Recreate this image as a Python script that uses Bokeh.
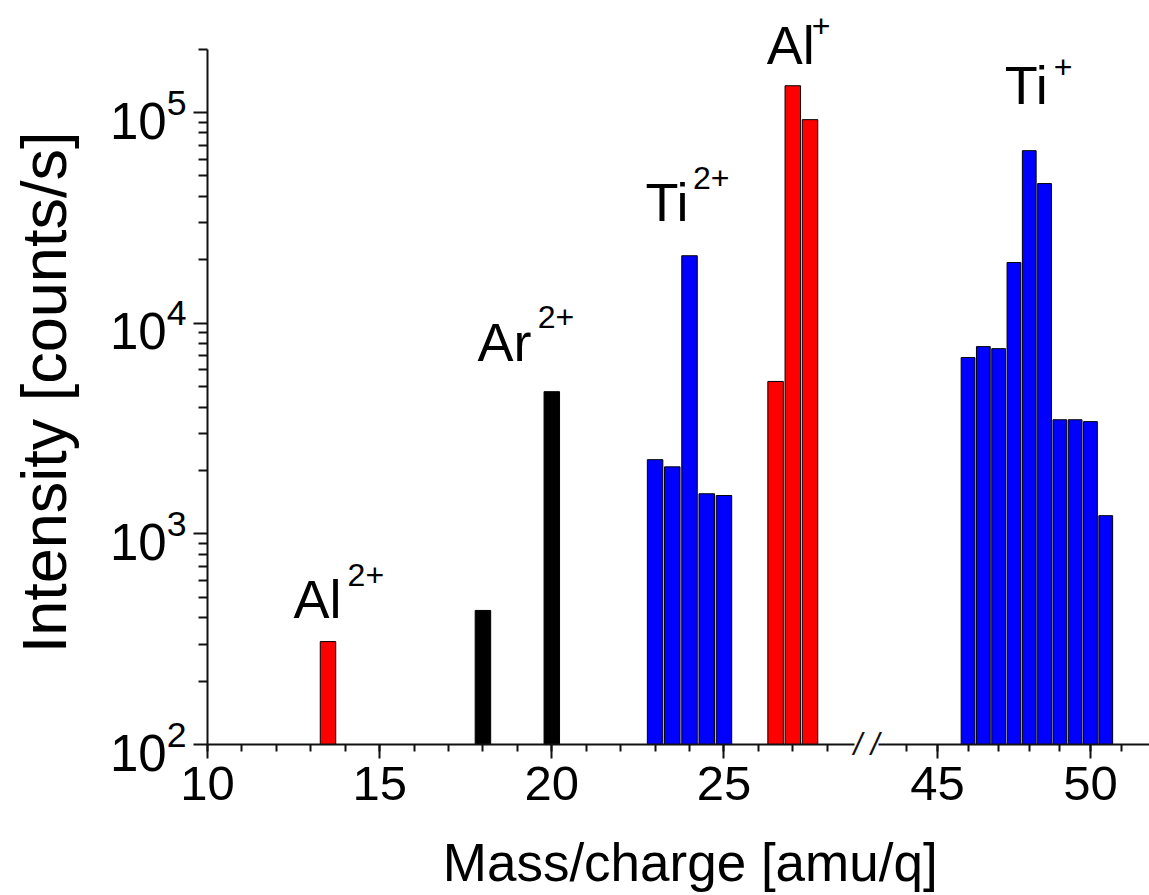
import math
from bokeh.plotting import figure
from bokeh.models import (Range1d, LinearAxis, Label, FixedTicker,
                          SingleIntervalTicker, LogTickFormatter)
from bokeh.embed import file_html
from bokeh.resources import INLINE

# ---------------- data ----------------
al2_mz = [13.5]
al2_counts = [308]
ar2_mz = [18, 20]
ar2_counts = [433, 4730]
ti2_mz = [23, 23.5, 24, 24.5, 25]
ti2_counts = [2250, 2080, 20900, 1550, 1520]
al1_mz = [26.5, 27, 27.5]
al1_counts = [5290, 134000, 92500]
ti1_mz = [46, 46.5, 47, 47.5, 48, 48.5, 49, 49.5, 50, 50.5]
ti1_counts = [6870, 7740, 7570, 19400, 65900, 46000, 3480, 3480, 3410, 1220]

y_ticks = [1e2, 1e3, 1e4, 1e5]
y_minor = [m * 10 ** k for k in (2, 3, 4) for m in range(2, 10)] + [2e5]

x_label = "Mass/charge [amu/q]"
y_label = "Intensity [counts/s]"

# ion labels: (main, superscript, x_main, y_main, x_sup, y_sup, x range)
ion_labels = [
    ("Al", "2+", 12.50, 490, 14.07, 640, "default"),
    ("Ar", "2+", 17.84, 8155, 19.59, 10650, "default"),
    ("Ti", "2+", 22.72, 37400, 24.10, 48800, "default"),
    ("Al", "+", 26.24, 210000, 27.55, 258000, "default"),
    ("Ti", "+", 47.20, 135300, 48.80, 163600, "right"),
]

FONT = "Liberation Sans"
y_base, y_top = 100, 2e5          # axis extent
left_lo, left_hi = 10, 28.78      # left x-axis segment
right_lo, right_hi = 43.07, 51.93 # right x-axis segment
bar_w = 0.45

p = figure(width=1149, height=895, output_backend="svg", toolbar_location=None,
           x_range=Range1d(3.988, 37.36), y_range=Range1d(19.2, 340200),
           y_axis_type="log", min_border=0, outline_line_color=None,
           background_fill_color="white", border_fill_color="white")
p.extra_x_ranges = {"right": Range1d(14.38, 51.93)}
p.xgrid.visible = False
p.ygrid.visible = False


def style_axis(ax, minor_len):
    ax.axis_line_width = 2
    ax.axis_line_color = "#111111"
    ax.major_tick_line_width = 2
    ax.major_tick_line_color = "#111111"
    ax.minor_tick_line_width = 2
    ax.minor_tick_line_color = "#111111"
    ax.major_tick_in = 0
    ax.major_tick_out = 14
    ax.minor_tick_in = 0
    ax.minor_tick_out = minor_len
    ax.major_label_text_font = FONT
    ax.major_label_text_font_size = "49px"
    ax.major_label_text_color = "black"


# left section x axis
xa = p.xaxis[0]
xa.fixed_location = y_base
xa.bounds = (left_lo, left_hi)
xa.ticker = SingleIntervalTicker(interval=5, num_minor_ticks=5)
style_axis(xa, 7)
xa.major_label_standoff = 8

# right section x axis
xr = LinearAxis(x_range_name="right", bounds=(right_lo, right_hi),
                fixed_location=y_base,
                ticker=SingleIntervalTicker(interval=5, num_minor_ticks=5))
style_axis(xr, 7)
xr.major_label_standoff = 8
p.add_layout(xr, "below")

# y axis
ya = p.yaxis[0]
ya.fixed_location = left_lo
ya.bounds = (y_base, y_top)
ya.ticker = FixedTicker(ticks=y_ticks, minor_ticks=y_minor)
ya.formatter = LogTickFormatter()
style_axis(ya, 9)
ya.major_label_text_font_size = "51px"
ya.major_label_standoff = 7

# bars
p.vbar(x=al2_mz, top=al2_counts, bottom=y_base, width=bar_w,
       fill_color="#FF0000", line_color="black", line_width=1)
p.vbar(x=ar2_mz, top=ar2_counts, bottom=y_base, width=bar_w,
       fill_color="black", line_color="black", line_width=1)
p.vbar(x=ti2_mz, top=ti2_counts, bottom=y_base, width=bar_w,
       fill_color="#0000FF", line_color="black", line_width=1)
p.vbar(x=al1_mz, top=al1_counts, bottom=y_base, width=bar_w,
       fill_color="#FF0000", line_color="black", line_width=1)
p.vbar(x=ti1_mz, top=ti1_counts, bottom=y_base, width=bar_w,
       fill_color="#0000FF", line_color="black", line_width=1,
       x_range_name="right")

# ion labels
for main, sup, xm, ym, xs, ys, rng in ion_labels:
    p.add_layout(Label(x=xm, y=ym, text=main, x_range_name=rng,
                       text_font=FONT, text_font_size="54px", text_color="black",
                       text_align="left", text_baseline="middle"))
    p.add_layout(Label(x=xs, y=ys, text=sup, x_range_name=rng,
                       text_font=FONT, text_font_size="32px", text_color="black",
                       text_align="left", text_baseline="middle"))

# axis break mark
p.add_layout(Label(x=29.14, y=y_base, text="/ /", text_font=FONT,
                   text_font_size="31px", text_font_style="italic",
                   text_color="#111111",
                   text_align="center", text_baseline="middle"))

# axis titles
p.add_layout(Label(x=24.02, y=27.6, text=x_label,
                   text_font=FONT, text_font_size="53px", text_color="black",
                   text_align="center", text_baseline="middle"))
p.add_layout(Label(x=5.26, y=4690, text=y_label, angle=math.pi / 2,
                   text_font=FONT, text_font_size="63px", text_color="black",
                   text_align="center", text_baseline="middle"))

open("out.html", "w").write(file_html(p, INLINE))
